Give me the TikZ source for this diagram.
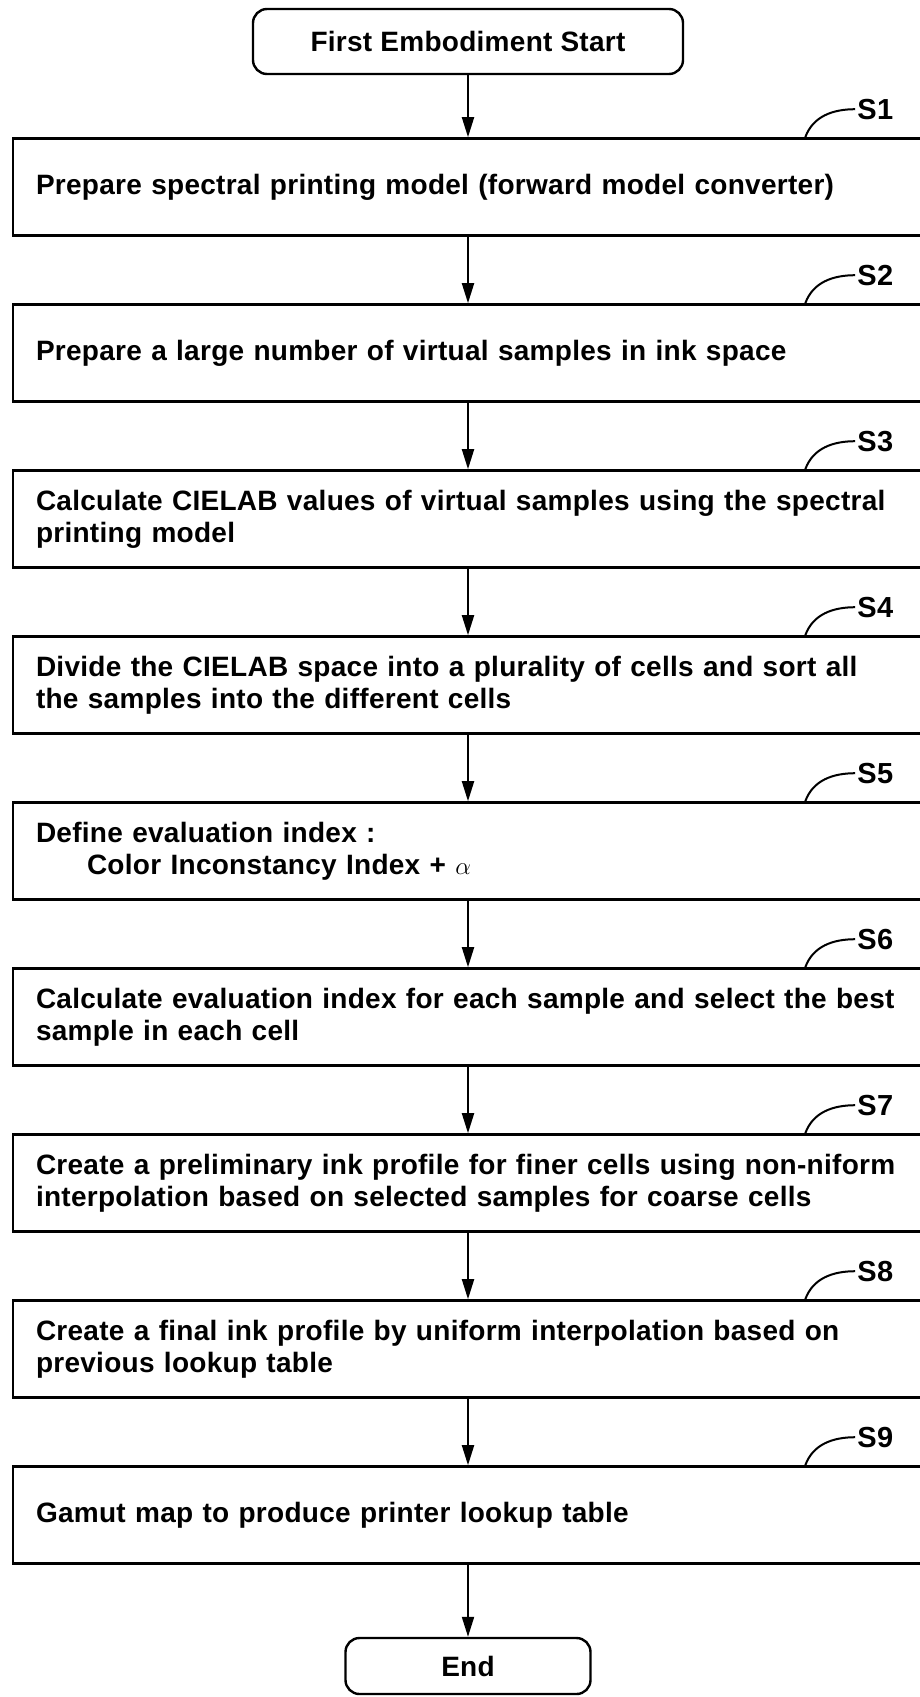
\documentclass[tikz,border=0pt]{standalone}
\usepackage{fontspec}
\setmainfont{Liberation Sans}[LetterSpace=1.0]
\usetikzlibrary{positioning,arrows.meta}

\tikzset{
  flow/.style={draw,line width=2.6pt,rectangle,minimum height=97pt,
    text width=864pt,inner xsep=23pt,align=left,
    font=\bfseries\fontsize{28}{32}\selectfont},
  terminal/.style={draw,line width=2.4pt,rounded corners=14pt,
    minimum width=430pt,minimum height=65pt,
    font=\bfseries\fontsize{28}{32}\selectfont},
  arrow/.style={line width=2pt,-{Triangle[length=20pt,width=12pt]}},
  steplbl/.style={font=\bfseries\fontsize{29}{30}\selectfont,inner sep=2pt},
  lblline/.style={line width=2pt}
}

\begin{document}
\begin{tikzpicture}[x=1pt,y=1pt]
  \useasboundingbox (0,0) rectangle (919,-1697);

  % Start, process steps and end
  \node[terminal] (start) at (468,-41.5) {First Embodiment Start};
  \node[flow,below=62pt of start] (s1) {Prepare spectral printing model (forward model converter)};
  \node[flow,below=66.4pt of s1] (s2) {Prepare a large number of virtual samples in ink space};
  \node[flow,below=66.4pt of s2] (s3) {Calculate CIELAB values of virtual samples using the spectral\\printing model};
  \node[flow,below=66.4pt of s3] (s4) {Divide the CIELAB space into a plurality of cells and sort all\\the samples into the different cells};
  \node[flow,below=66.4pt of s4] (s5) {Define evaluation index :\\\hspace*{51pt}Color Inconstancy Index + \(\alpha\)};
  \node[flow,below=66.4pt of s5] (s6) {Calculate evaluation index for each sample and select the best\\sample in each cell};
  \node[flow,below=66.4pt of s6] (s7) {Create a preliminary ink profile for finer cells using non-niform\\interpolation based on selected samples for coarse cells};
  \node[flow,below=66.4pt of s7] (s8) {Create a final ink profile by uniform interpolation based on\\previous lookup table};
  \node[flow,below=66.4pt of s8] (s9) {Gamut map to produce printer lookup table};
  \node[terminal,minimum width=245pt,minimum height=56pt,below=72pt of s9] (stop) {End};

  % Arrows
  \draw[arrow] (start) -- (s1);
  \draw[arrow] (s1) -- (s2);
  \draw[arrow] (s2) -- (s3);
  \draw[arrow] (s3) -- (s4);
  \draw[arrow] (s4) -- (s5);
  \draw[arrow] (s5) -- (s6);
  \draw[arrow] (s6) -- (s7);
  \draw[arrow] (s7) -- (s8);
  \draw[arrow] (s8) -- (s9);
  \draw[arrow] (s9) -- (stop);

  % Step labels
  \node[steplbl] (l1) at ([shift={(-49pt,28pt)}]s1.north east) {S1};
  \coordinate (c1) at ([xshift=-119pt]s1.north east);
  \draw[lblline] (l1.west) to[out=180,in=70] (c1);
  \node[steplbl] (l2) at ([shift={(-49pt,28pt)}]s2.north east) {S2};
  \coordinate (c2) at ([xshift=-119pt]s2.north east);
  \draw[lblline] (l2.west) to[out=180,in=70] (c2);
  \node[steplbl] (l3) at ([shift={(-49pt,28pt)}]s3.north east) {S3};
  \coordinate (c3) at ([xshift=-119pt]s3.north east);
  \draw[lblline] (l3.west) to[out=180,in=70] (c3);
  \node[steplbl] (l4) at ([shift={(-49pt,28pt)}]s4.north east) {S4};
  \coordinate (c4) at ([xshift=-119pt]s4.north east);
  \draw[lblline] (l4.west) to[out=180,in=70] (c4);
  \node[steplbl] (l5) at ([shift={(-49pt,28pt)}]s5.north east) {S5};
  \coordinate (c5) at ([xshift=-119pt]s5.north east);
  \draw[lblline] (l5.west) to[out=180,in=70] (c5);
  \node[steplbl] (l6) at ([shift={(-49pt,28pt)}]s6.north east) {S6};
  \coordinate (c6) at ([xshift=-119pt]s6.north east);
  \draw[lblline] (l6.west) to[out=180,in=70] (c6);
  \node[steplbl] (l7) at ([shift={(-49pt,28pt)}]s7.north east) {S7};
  \coordinate (c7) at ([xshift=-119pt]s7.north east);
  \draw[lblline] (l7.west) to[out=180,in=70] (c7);
  \node[steplbl] (l8) at ([shift={(-49pt,28pt)}]s8.north east) {S8};
  \coordinate (c8) at ([xshift=-119pt]s8.north east);
  \draw[lblline] (l8.west) to[out=180,in=70] (c8);
  \node[steplbl] (l9) at ([shift={(-49pt,28pt)}]s9.north east) {S9};
  \coordinate (c9) at ([xshift=-119pt]s9.north east);
  \draw[lblline] (l9.west) to[out=180,in=70] (c9);
\end{tikzpicture}
\end{document}
